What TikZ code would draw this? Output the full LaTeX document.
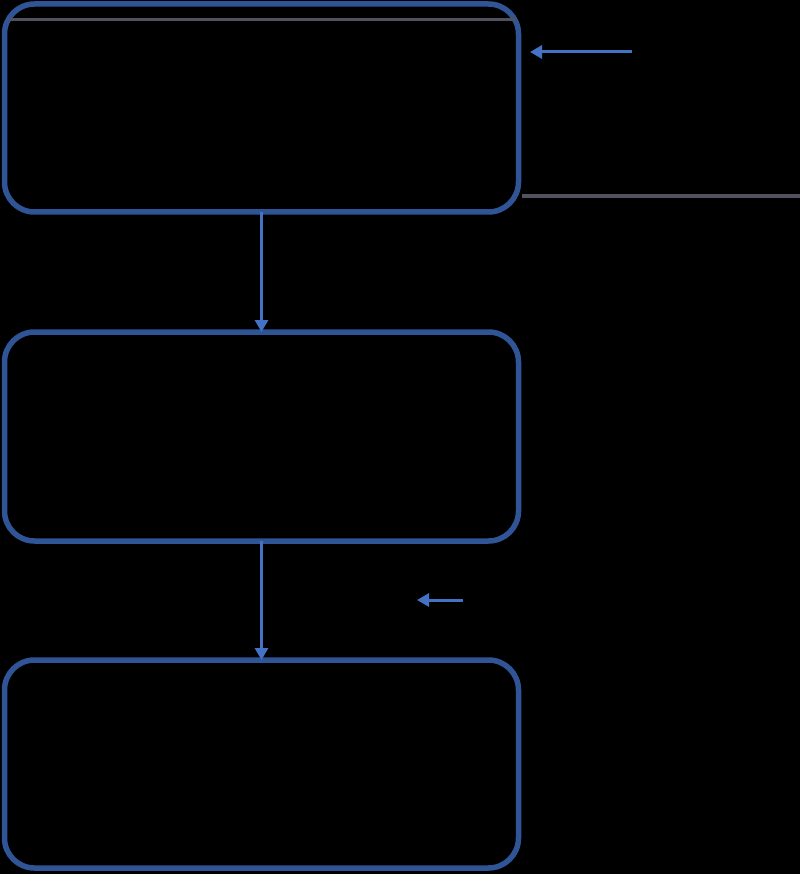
\documentclass[tikz,border=0pt]{standalone}
\usetikzlibrary{arrows.meta}
\definecolor{boxblue}{RGB}{47,85,151}
\definecolor{arrblue}{RGB}{68,114,196}
\definecolor{lgray}{RGB}{82,82,94}
\begin{document}
\begin{tikzpicture}[x=1pt,y=-1pt,
  stage/.style={draw=boxblue,line width=5.5pt,rounded corners=30pt,minimum width=514pt,inner sep=0pt,outer sep=0pt},
  flow/.style={draw=arrblue,line width=3pt,-{Triangle[length=12pt,width=13pt]}},
  rule/.style={draw=lgray,line width=3.5pt}]
\fill[black] (0,0) rectangle (800,874);
\useasboundingbox (0,0) rectangle (800,874);
\node[stage,minimum height=208pt] (b1) at (261.5,108) {};
\node[stage,minimum height=209pt] (b2) at (261.5,436.5) {};
\node[stage,minimum height=208pt] (b3) at (261.5,764) {};
\draw[flow] (b1.south) -- (b2.north);
\draw[flow] (b2.south) -- (b3.north);
\coordinate (t1) at (9,20);
\coordinate (t2) at (516,20);
\draw[rule,line width=3pt] (t1) -- (t2);
\coordinate (r1) at (522,196);
\coordinate (r2) at (800,196);
\draw[rule] (r1) -- (r2);
\coordinate (a1s) at (632,52);
\coordinate (a1e) at (530,52);
\draw[flow] (a1s) -- (a1e);
\coordinate (a2s) at (463,600);
\coordinate (a2e) at (417,600);
\draw[flow] (a2s) -- (a2e);
\end{tikzpicture}
\end{document}
